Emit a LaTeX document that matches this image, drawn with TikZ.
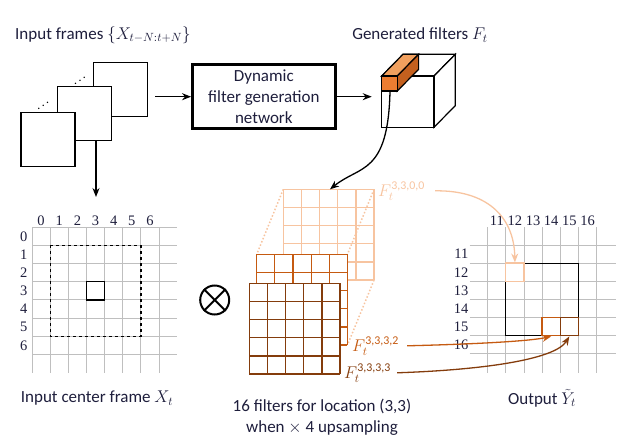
\RequirePackage{fix-cm}
\documentclass[tikz,border=0pt]{standalone}
\usepackage{amsmath}
\usepackage{fontspec}
\setmainfont{Carlito}
\newfontfamily\numfont{Liberation Serif}
\usepackage{graphicx}
\usetikzlibrary{arrows.meta}

\definecolor{txtcol}{RGB}{30,30,60}
\definecolor{gridgray}{HTML}{BFBFBF}
\definecolor{lightor}{HTML}{F7C4A0}
\definecolor{midor}{HTML}{C55A11}
\definecolor{darkor}{HTML}{843C0C}
\definecolor{barfront}{HTML}{ED7D31}
\definecolor{bartop}{HTML}{F1A05E}
\definecolor{barside}{HTML}{C4601E}

% one 5x5 filter: #1 x, #2 y, #3 colour
\newcommand{\FilterGrid}[3]{%
  \fill[white] (#1,#2) rectangle ++(90.75,90.75);
  \foreach \k in {0,...,5} {
    \draw[#3, line width=1.2pt] ({#1+\k*18.15},#2) -- ++(0,90.75);
    \draw[#3, line width=1.2pt] (#1,{#2+\k*18.15}) -- ++(90.75,0);
  }%
}

\begin{document}
\begin{tikzpicture}[x=1pt,y=-1pt,
    lbl/.style={font=\fontsize{17}{21}\selectfont, text=txtcol, inner sep=0},
    numlbl/.style={font=\numfont\fontsize{14.5}{16}\selectfont, text=txtcol, inner sep=0},
    gridline/.style={draw=gridgray, line width=1pt},
    arr/.style={-{Stealth[length=9pt,width=7pt]}, line width=1.3pt},
    framebox/.style={draw, fill=white, line width=1.2pt, minimum size=54pt, inner sep=0},
    cellbox/.style={draw, fill=white, line width=1.3pt, minimum size=18.15pt, inner sep=0},
    flbl/.style={font=\fontsize{17}{21}\selectfont, inner sep=0},
    dotline/.style={lightor, dotted, line width=1.5pt}]
    \useasboundingbox (0,0) rectangle (620,441);

    % input frames
    \node[lbl, anchor=west] (inframes) at (15,35) {Input frames $\{X_{t-N:t+N}\}$};
    \node[framebox] (fr3) at (120.8,89.2) {};
    \node[framebox] (fr2) at (84.2,113.8) {};
    \node[framebox] (fr1) at (48,139.8) {};
    \node[font=\fontsize{12}{14}\selectfont] (dots2) at (80,78) {\reflectbox{$\ddots$}};
    \node[font=\fontsize{12}{14}\selectfont] (dots1) at (43.3,103) {\reflectbox{$\ddots$}};

    \node[lbl, draw=black, line width=3pt, minimum width=142.5pt, minimum height=63.5pt,
          align=center] (dfn) at (263.8,96.7) {Dynamic\\filter generation\\network};
    \coordinate (cubein) at (381.7,96.7);
    \draw[arr, shorten <=7pt] (fr3.east |- dfn.west) -- (dfn.west);
    \draw[arr, shorten >=10pt] (dfn.east) -- (cubein);

    % generated filters
    \node[lbl] (genfilt) at (420,35) {Generated filters $F_t$};
    \begin{scope}[line width=1.2pt]
      \filldraw[fill=white] (381.7,76) -- (403,54.3) -- (455.3,54.3) -- (434,76) -- cycle;
      \filldraw[fill=white] (434,76) -- (455.3,54.3) -- (455.3,105.6) -- (434,127.3) -- cycle;
      \filldraw[fill=white] (381.7,76) rectangle (434,127.3);
      \filldraw[fill=bartop] (381.7,76) -- (403,54.3) -- (418.6,54.3) -- (397.3,76) -- cycle;
      \filldraw[fill=barside] (397.3,76) -- (418.6,54.3) -- (418.6,69.3) -- (397.3,91) -- cycle;
      \filldraw[fill=barfront] (381.7,76) rectangle (397.3,91);
    \end{scope}
    \coordinate (barbot) at (390,91.5);

    % input center frame
    \coordinate (gridtop) at (96,197);
    \draw[arr] (fr2.south -| gridtop) -- (gridtop);
    \foreach \i in {0,...,7} {
      \draw[gridline] ({32+\i*18.15},227.3) -- ++(0,145.2);
      \draw[gridline] (32,{227.3+\i*18.15}) -- ++(145.2,0);
    }
    \foreach \i in {0,...,6} {
      \node[numlbl] (lc\i) at ({32+(\i+0.5)*18.15},220.7) {\i};
      \node[numlbl, anchor=east] (lr\i) at (27.5,{227.3+(\i+0.5)*18.15}) {\i};
    }
    \draw[dashed, line width=1.2pt] (50.15,245.45) rectangle (140.9,336.2);
    \draw[line width=1.2pt] (86.45,281.75) rectangle (104.6,299.9);
    \node[lbl] (incenter) at (97,398) {Input center frame $X_t$};

    \node[draw, circle, line width=2pt, minimum size=29pt, inner sep=0] (ot) at (214.7,300) {};
    \draw[line width=2pt] (ot.45) -- (ot.225);
    \draw[line width=2pt] (ot.135) -- (ot.-45);

    % filters for location (3,3)
    \FilterGrid{283.3}{189.3}{lightor}
    \draw[dotline] (283.3,189.3) -- (256.7,254.3);
    \draw[dotline] (374.05,189.3) -- (347.45,254.3);
    \draw[dotline] (374.05,280.05) -- (347.45,345.05);
    \FilterGrid{256.7}{254.3}{midor}
    \FilterGrid{249.3}{283.3}{darkor}
    \coordinate (fbacktop) at (330,189.3);
    \draw[arr] (barbot) .. controls (388,175) and (360,165) .. (fbacktop);
    \node[flbl, text=lightor, anchor=west] (f3300) at (378,191) {$F_t^{\text{3,3,0,0}}$};
    \node[flbl, text=midor, anchor=west] (f3332) at (352,346) {$F_t^{\text{3,3,3,2}}$};
    \node[flbl, text=darkor, anchor=west] (f3333) at (344,373) {$F_t^{\text{3,3,3,3}}$};
    \node[lbl, align=center] (caption) at (322,417) {16 filters for location (3,3)\\when $\times$ 4 upsampling};

    % output
    \foreach \k in {0,...,6} {
      \draw[gridline] ({487.7+\k*18.15},227.3) -- (\k*18.15+487.7,373.3);
      \draw[gridline] (469.5,{245+\k*18.15}) -- (615.5,\k*18.15+245);
    }
    \foreach \c [count=\k from 0] in {11,...,16} {
      \node[numlbl] (oc\c) at ({487.7+(\k+0.5)*18.15},220.7) {\c};
      \node[numlbl, anchor=east] (or\c) at (468.5,{245+(\k+0.5)*18.15}) {\c};
    }
    \draw[line width=1.2pt] (505.85,263.15) rectangle (578.45,335.75);
    \node[cellbox, draw=lightor] (y1212) at (514.9,272.2) {};
    \node[cellbox, draw=midor] (y1415) at (551.2,326.7) {};
    \node[cellbox, draw=darkor] (y1515) at (569.3,326.7) {};
    \node[lbl] (outlbl) at (542,398) {Output $\tilde{Y}_t$};

    \draw[arr, lightor, shorten <=10pt] (f3300.east) .. controls (485,190) and (514,215) .. (y1212.north);
    \draw[arr, midor, shorten <=8pt] (f3332.east) .. controls (480,344) and (530,341) .. (y1415.south);
    \draw[arr, darkor, shorten <=6pt] (f3333.east) .. controls (480,370) and (555,360) .. (y1515.south);
\end{tikzpicture}
\end{document}
